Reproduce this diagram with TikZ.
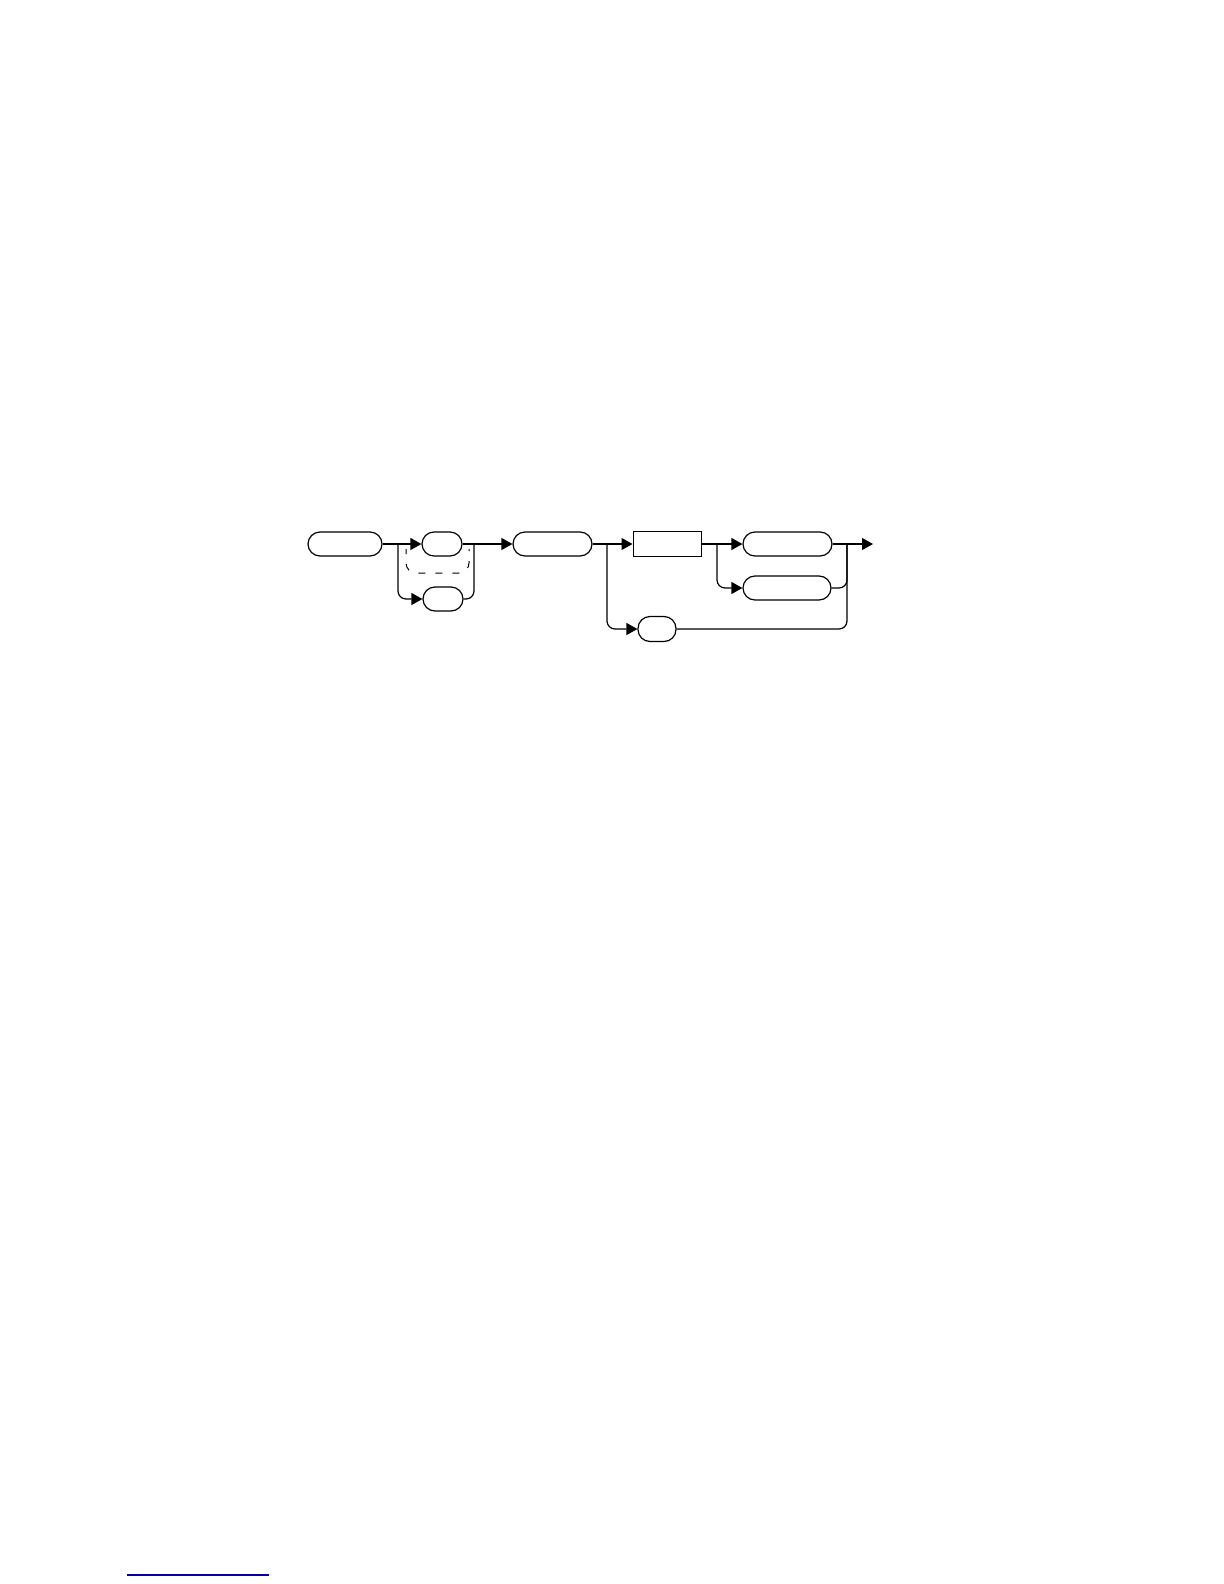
\documentclass[tikz,border=0pt]{standalone}
\usetikzlibrary{arrows.meta,calc}
\begin{document}
\begin{tikzpicture}[x=0.5pt,y=-0.5pt,
  pill/.style={draw,line width=0.6pt,rounded corners=6pt,minimum height=12pt,inner sep=0pt},
  box/.style={draw,line width=0.5pt,minimum height=12.5pt,inner sep=0pt},
  link/.style={line width=0.6pt,rounded corners=4pt,-{Triangle[length=5.5pt,width=6pt]}},
  merge/.style={line width=0.6pt,rounded corners=4pt}]
	\useasboundingbox (0,0) rectangle (1224,1584);
	
	\node[pill,minimum width=37pt] (cmd) at (345,544) {};
	\node[pill,minimum width=20pt] (optA) at (442,544) {};
	\node[pill,minimum width=20pt] (optB) at (443,599) {};
	\node[pill,minimum width=39.5pt] (par) at (552.5,544) {};
	\node[box,minimum width=34pt] (val) at (667,544) {};
	\node[pill,minimum width=44.5pt] (sufA) at (787.5,544) {};
	\node[pill,minimum width=44pt] (sufB) at (787,588) {};
	\node[pill,minimum width=19pt,minimum height=12.5pt] (alt) at (657,629) {};
	
	\coordinate (sp1) at (398,544);
	\coordinate (mg1) at (474,544);
	\coordinate (sp2) at (607,544);
	\coordinate (sp3) at (717,544);
	\coordinate (mg2) at (847,544);
	\coordinate (fin) at (873,544);
	
	\draw[link] (cmd) -- (optA);
	\draw[link] (sp1) |- (optB);
	\draw[merge] (optB) -| (mg1);
	\draw[line width=0.5pt,dash pattern=on 3.5pt off 5pt,dash phase=1pt,rounded corners=5pt] (406,549) |- (469,573) -- (469,549);
	\draw[link] (optA) -- (par);
	
	\draw[link] (par) -- (val);
	\draw[link] (sp2) |- (alt);
	\draw[merge] (alt) -| (mg2);
	
	\draw[link] (val) -- (sufA);
	\draw[link] (sp3) |- (sufB);
	\draw[merge] (sufB) -| (mg2);
	\draw[link] (sufA) -- (fin);
	
	\draw[blue!65!black,line width=0.6pt] (127,1575) -- (269,1575);
\end{tikzpicture}
\end{document}
